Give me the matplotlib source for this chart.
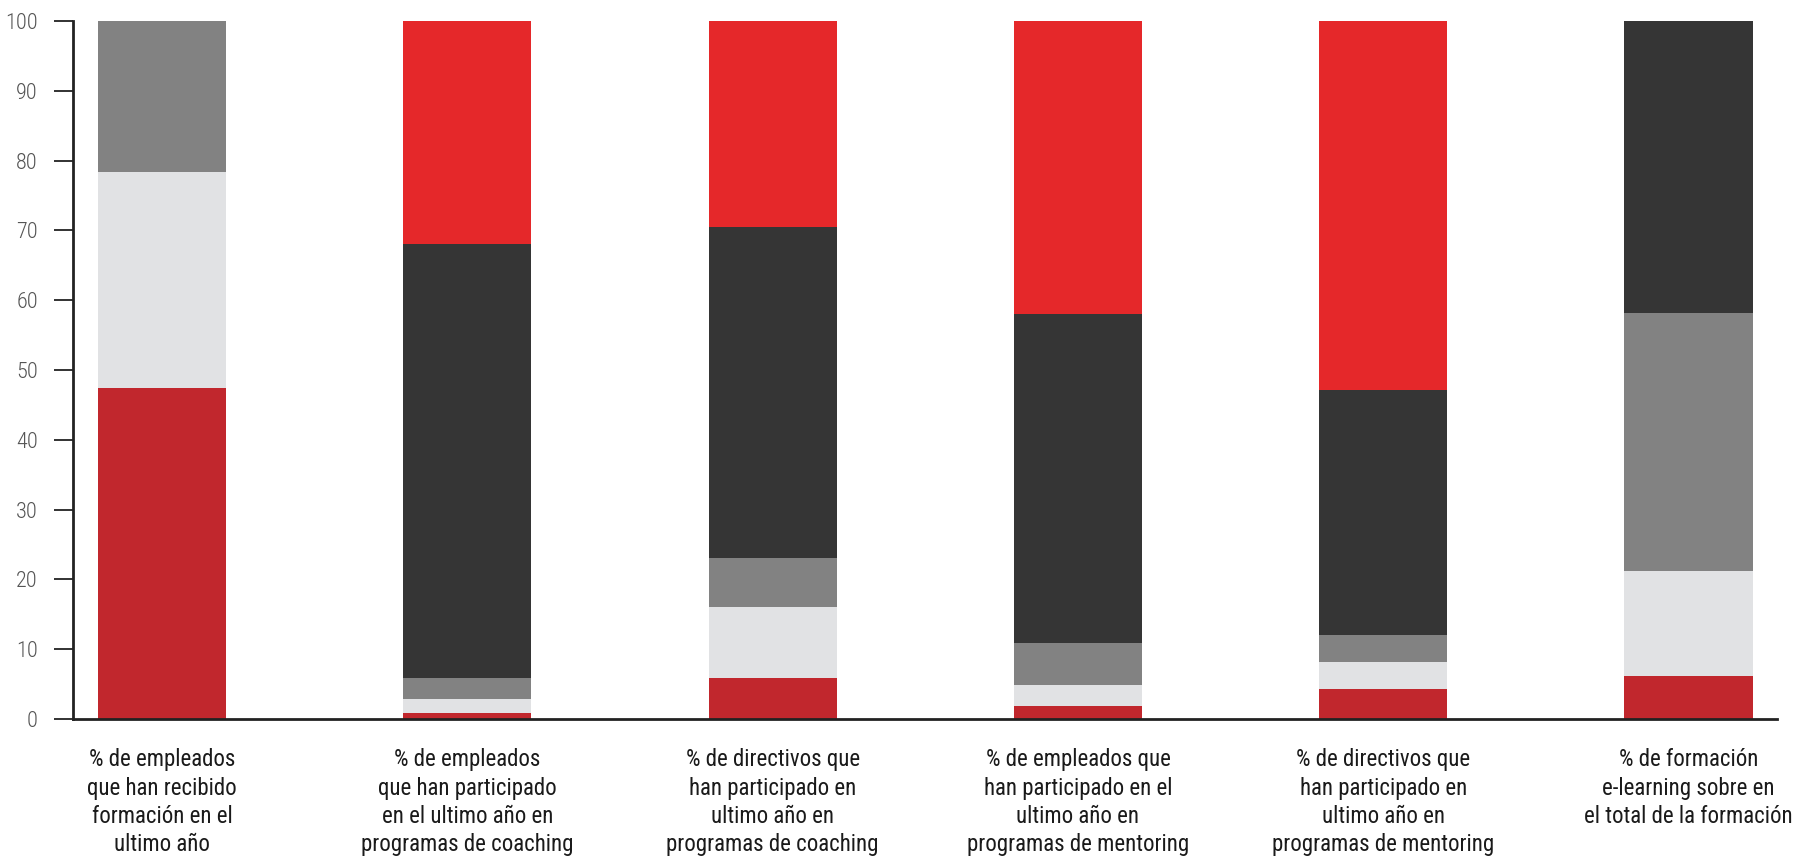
import numpy as np
import matplotlib
matplotlib.use("Agg")
import matplotlib.pyplot as plt

# --- Datos ---
categorias = [
    "% de empleados\nque han recibido\nformación en el\nultimo año",
    "% de empleados\nque han participado\nen el ultimo año en\nprogramas de coaching",
    "% de directivos que\nhan participado en\nultimo año en\nprogramas de coaching",
    "% de empleados que\nhan participado en el\nultimo año en\nprogramas de mentoring",
    "% de directivos que\nhan participado en\nultimo año en\nprogramas de mentoring",
    "% de formación\ne-learning sobre en\nel total de la formación",
]
serie_rojo_osc = [47.4, 0.8, 5.9, 1.8, 4.3, 6.2]
serie_gris_claro = [30.9, 2.1, 10.1, 3.0, 3.8, 15.0]
serie_gris = [21.7, 3.0, 7.0, 6.1, 3.9, 36.9]
serie_oscuro = [0.0, 62.1, 47.5, 47.1, 35.1, 41.9]
serie_rojo = [0.0, 32.0, 29.5, 42.0, 52.9, 0.0]

series = [serie_rojo_osc, serie_gris_claro, serie_gris, serie_oscuro, serie_rojo]
colores = ["#C1272D", "#E1E2E4", "#828282", "#353535", "#E5282A"]

plt.rcParams["font.family"] = ["Roboto Condensed", "Roboto", "DejaVu Sans"]
plt.rcParams["font.stretch"] = "condensed"

fig = plt.figure(figsize=(18.03, 8.59), dpi=100)
ax = fig.add_axes([0.0403, 0.163, 0.9453, 0.8126])

x = np.arange(len(categorias))
base = np.zeros(len(categorias))
for vals, col in zip(series, colores):
    ax.bar(x, vals, bottom=base, width=0.42, color=col, linewidth=0)
    base += np.array(vals)

ax.set_xlim(-0.293, 5.29)
ax.set_ylim(0, 100)
ax.set_yticks(range(0, 101, 10))
ax.set_xticks(x)
ax.set_xticklabels(categorias, fontsize=16.5, color="#1a1a1a", linespacing=1.3)

for s in ["top", "right"]:
    ax.spines[s].set_visible(False)
for s in ["left", "bottom"]:
    ax.spines[s].set_linewidth(2)
    ax.spines[s].set_color("#222222")

ax.tick_params(axis="y", length=14, width=1.3, color="#222222", pad=11,
               labelsize=16, labelcolor="#555555")
for lbl in ax.get_yticklabels():
    lbl.set_fontweight("light")
ax.tick_params(axis="x", length=0, pad=21)

fig.savefig("out.png", dpi=100)
